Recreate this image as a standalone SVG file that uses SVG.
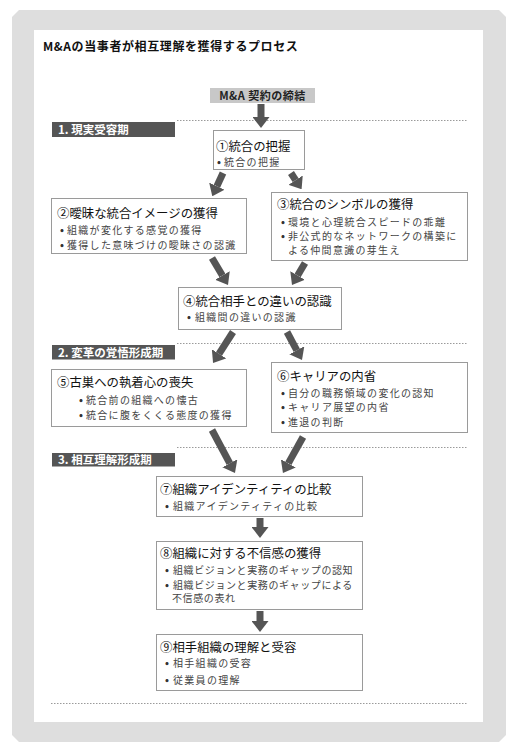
<svg xmlns="http://www.w3.org/2000/svg" width="512" height="750" viewBox="0 0 512 750">
<style>
text{font-family:"Noto Sans CJK JP","Noto Sans",sans-serif;}
.box{fill:#fff;stroke:#9a9a9a;stroke-width:1;}
.ttl{font-size:12.4px;fill:#111;}
.bul{font-size:10px;fill:#444;letter-spacing:1.3px;}
.bul .d{font-size:10.5px;font-weight:bold;fill:#333;letter-spacing:0;}
.tight{letter-spacing:0.6px;}
.lbl{fill:#555;}
.lbltx{font-size:11.5px;font-weight:bold;fill:#fff;}
.dot{stroke:#9a9a9a;stroke-width:1;stroke-dasharray:1.5 1.5;fill:none;}
.arr{stroke:#555;stroke-width:7;fill:none;marker-end:url(#ah);}
</style>
<defs>
<marker id="ah" markerUnits="userSpaceOnUse" viewBox="0 0 11 17" markerWidth="11" markerHeight="17" refX="0" refY="8.5" orient="auto">
<path d="M0,0 L11,8.5 L0,17 Z" fill="#555"/>
</marker>
</defs>
<g id="frame">
<polygon points="19,10 499,10 506,17 506,735 499,742 19,742 12,735 12,17" fill="#dedede"/>
<rect x="34" y="30" width="449" height="692" fill="#fff"/>
</g>
<text x="43" y="51" font-size="12" font-weight="bold" fill="#111" letter-spacing="0.6">M&amp;Aの当事者が相互理解を獲得するプロセス</text>
<g id="phases">
<rect class="lbl" x="52" y="122" width="123" height="15"/>
<text class="lbltx" x="58" y="133.5">1. 現実受容期</text>
<rect class="lbl" x="52" y="345" width="123" height="14.5"/>
<text class="lbltx" x="58" y="356.5">2. 変革の覚悟形成期</text>
<rect class="lbl" x="52" y="453" width="123" height="13.5"/>
<text class="lbltx" x="58" y="463.8">3. 相互理解形成期</text>
<line class="dot" x1="177" y1="120.5" x2="468" y2="120.5"/>
<line class="dot" x1="177" y1="343.5" x2="467" y2="343.5"/>
<line class="dot" x1="177" y1="447.5" x2="467" y2="447.5"/>
<line class="dot" x1="51" y1="703.5" x2="467" y2="703.5"/>
</g>
<g id="connectors">
<path class="arr" d="M261,104 L261,117"/>
<path class="arr" d="M223,173 L216.9,186.2"/>
<path class="arr" d="M291,173 L295.6,180.1"/>
<path class="arr" d="M212,258 L222.4,275.5"/>
<path class="arr" d="M305,263 L297.6,275.5"/>
<path class="arr" d="M233,332 L219,353.8"/>
<path class="arr" d="M287,332 L296.8,350.3"/>
<path class="arr" d="M212,430 L229.8,463.3"/>
<path class="arr" d="M303,437 L288.3,463.4"/>
<path class="arr" d="M260,518 L260,527"/>
<path class="arr" d="M260,611 L260,621"/>
</g>
<g id="start">
<rect x="210" y="88" width="105" height="15" fill="#c8c8c8"/>
<text x="262.5" y="99.8" font-size="11" font-weight="bold" fill="#222" text-anchor="middle" letter-spacing="0.5">M&amp;A 契約の締結</text>
</g>
<g id="n1">
<rect class="box" x="213.5" y="130.5" width="91" height="39"/>
<text class="ttl" x="216" y="151">①統合の把握</text>
<text class="bul"><tspan class="d" x="217" y="165.5">•</tspan><tspan x="224" y="165.5">統合の把握</tspan></text>
</g>
<g id="n2">
<rect class="box" x="51.5" y="198.5" width="195" height="55"/>
<text class="ttl" x="57" y="218">②曖昧な統合イメージの獲得</text>
<text class="bul"><tspan class="d" x="60" y="233.5">•</tspan><tspan x="67" y="233.5">組織が変化する感覚の獲得</tspan></text>
<text class="bul"><tspan class="d" x="60" y="248.5">•</tspan><tspan x="67" y="248.5">獲得した意味づけの曖昧さの認識</tspan></text>
</g>
<g id="n3">
<rect class="box" x="271.5" y="192.5" width="196" height="68"/>
<text class="ttl" x="277" y="209">③統合のシンボルの獲得</text>
<text class="bul"><tspan class="d" x="281" y="225.5">•</tspan><tspan x="288" y="225.5">環境と心理統合スピードの乖離</tspan></text>
<text class="bul"><tspan class="d" x="281" y="239.5">•</tspan><tspan x="288" y="239.5">非公式的なネットワークの構築に</tspan></text>
<text class="bul" x="288" y="253.5">よる仲間意識の芽生え</text>
</g>
<g id="n4">
<rect class="box" x="178.5" y="287.5" width="163" height="42"/>
<text class="ttl" x="183" y="306">④統合相手との違いの認識</text>
<text class="bul"><tspan class="d" x="187" y="320.5">•</tspan><tspan x="195" y="320.5">組織間の違いの認識</tspan></text>
</g>
<g id="n5">
<rect class="box" x="51.5" y="369.5" width="195" height="57"/>
<text class="ttl" x="57" y="387">⑤古巣への執着心の喪失</text>
<text class="bul"><tspan class="d" x="79" y="403.5">•</tspan><tspan x="86" y="403.5">統合前の組織への懐古</tspan></text>
<text class="bul"><tspan class="d" x="79" y="418.5">•</tspan><tspan x="86" y="418.5">統合に腹をくくる態度の獲得</tspan></text>
</g>
<g id="n6">
<rect class="box" x="271.5" y="362.5" width="196" height="70"/>
<text class="ttl" x="277" y="381">⑥キャリアの内省</text>
<text class="bul"><tspan class="d" x="281" y="396.5">•</tspan><tspan x="288" y="396.5">自分の職務領域の変化の認知</tspan></text>
<text class="bul"><tspan class="d" x="281" y="410.5">•</tspan><tspan x="288" y="410.5">キャリア展望の内省</tspan></text>
<text class="bul"><tspan class="d" x="281" y="425.5">•</tspan><tspan x="288" y="425.5">進退の判断</tspan></text>
</g>
<g id="n7">
<rect class="box" x="156.5" y="476.5" width="206" height="40"/>
<text class="ttl" x="160" y="494">⑦組織アイデンティティの比較</text>
<text class="bul"><tspan class="d" x="165" y="509.5">•</tspan><tspan x="173" y="509.5">組織アイデンティティの比較</tspan></text>
</g>
<g id="n8">
<rect class="box" x="156.5" y="541.5" width="206" height="68"/>
<text class="ttl" x="160" y="558">⑧組織に対する不信感の獲得</text>
<text class="bul tight"><tspan class="d" x="165" y="573.5">•</tspan><tspan x="173" y="573.5">組織ビジョンと実務のギャップの認知</tspan></text>
<text class="bul tight"><tspan class="d" x="165" y="588.5">•</tspan><tspan x="173" y="588.5">組織ビジョンと実務のギャップによる</tspan></text>
<text class="bul tight" x="172" y="602">不信感の表れ</text>
</g>
<g id="n9">
<rect class="box" x="156.5" y="634.5" width="206" height="56"/>
<text class="ttl" x="160" y="652">⑨相手組織の理解と受容</text>
<text class="bul"><tspan class="d" x="165" y="666.5">•</tspan><tspan x="173" y="666.5">相手組織の受容</tspan></text>
<text class="bul"><tspan class="d" x="165" y="683.5">•</tspan><tspan x="173" y="683.5">従業員の理解</tspan></text>
</g>
</svg>
